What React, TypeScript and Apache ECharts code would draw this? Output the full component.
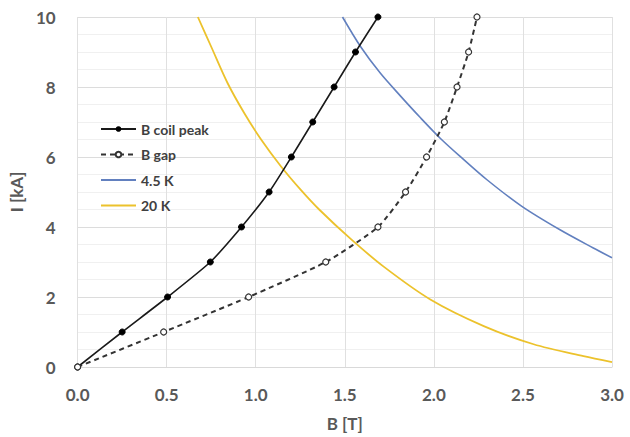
import React, { useEffect, useRef } from "react";
import * as echarts from "echarts";

const currentKA = [0, 1, 2, 3, 4, 5, 6, 7, 8, 9, 10];
const coilPeakB = [0, 0.25, 0.505, 0.745, 0.92, 1.075, 1.2, 1.32, 1.44, 1.56, 1.686];
const gapB = [0, 0.483, 0.96, 1.393, 1.686, 1.841, 1.959, 2.059, 2.13, 2.195, 2.242];

const k45B = [1.487, 1.589, 1.7, 1.813, 1.925, 2.037, 2.149, 2.298, 2.494, 2.708, 2.895, 3.0];
const k45I = [10, 9.15, 8.39, 7.74, 7.12, 6.53, 6.01, 5.35, 4.59, 3.92, 3.4, 3.12];

const k20B = [0.675, 0.75, 0.843, 0.936, 1.03, 1.142, 1.253, 1.356, 1.533, 1.72, 1.98, 2.28, 2.56, 2.84, 3.0];
const k20I = [10, 9.15, 8.1, 7.25, 6.5, 5.73, 5.06, 4.5, 3.66, 2.86, 1.93, 1.17, 0.65, 0.31, 0.14];

const seriesNames = ["B coil peak", "B gap", "4.5 K", "20 K"];

const pairs = (xs: number[], ys: number[]) => xs.map((x, i) => [x, ys[i]]);

export default function App() {
  const ref = useRef<HTMLDivElement>(null);
  useEffect(() => {
    if (!ref.current) return;
    const chart = echarts.init(ref.current, undefined, { renderer: "svg" });
    const font = "Lato, 'Open Sans', sans-serif";
    const labelStyle = { color: "#595959", fontSize: 17, fontWeight: "bold", fontFamily: font };
    chart.setOption({
      animation: false,
      backgroundColor: "#ffffff",
      grid: { left: 76, right: 18, top: 17, bottom: 69 },
      legend: {
        orient: "vertical",
        left: 95,
        top: 117,
        itemWidth: 35,
        itemHeight: 7,
        itemGap: 11.5,
        data: [
          { name: seriesNames[0] },
          { name: seriesNames[1] },
          { name: seriesNames[2], itemStyle: { opacity: 0 } },
          { name: seriesNames[3], itemStyle: { opacity: 0 } },
        ],
        textStyle: { color: "#404040", fontSize: 14, fontWeight: "bold", fontFamily: font },
      },
      xAxis: {
        type: "value",
        min: 0,
        max: 3,
        interval: 0.5,
        name: "B [T]",
        nameLocation: "middle",
        nameGap: 48,
        nameTextStyle: labelStyle,
        axisLine: { show: true, lineStyle: { color: "#d9d9d9", width: 1 } },
        axisTick: { show: false },
        axisLabel: { ...labelStyle, margin: 19, formatter: (v: number) => v.toFixed(1) },
        splitLine: { show: true, lineStyle: { color: "#e0e0e0", width: 1 } },
      },
      yAxis: {
        type: "value",
        min: 0,
        max: 10,
        interval: 2,
        name: "I [kA]",
        nameLocation: "middle",
        nameGap: 44,
        nameTextStyle: labelStyle,
        axisLine: { show: false },
        axisTick: { show: false },
        axisLabel: { ...labelStyle, margin: 22 },
        splitLine: { show: true, lineStyle: { color: "#dcdcdc", width: 1 } },
        minorTick: { show: false, splitNumber: 4 },
        minorSplitLine: { show: true, lineStyle: { color: "#f0f0f0", width: 1 } },
      },
      series: [
        {
          name: seriesNames[0],
          type: "line",
          data: pairs(coilPeakB, currentKA),
          smooth: 0.2,
          symbol: "circle",
          symbolSize: 6,
          itemStyle: { color: "#000000", borderColor: "#000000" },
          lineStyle: { color: "#1a1a1a", width: 1.6 },
          z: 5,
        },
        {
          name: seriesNames[1],
          type: "line",
          data: pairs(gapB, currentKA),
          smooth: 0.2,
          symbol: "circle",
          symbolSize: 6,
          itemStyle: { color: "#ffffff", borderColor: "#333333", borderWidth: 1.2 },
          lineStyle: { color: "#333333", width: 2, type: [5, 4] },
          z: 5,
        },
        {
          name: seriesNames[2],
          type: "line",
          data: pairs(k45B, k45I),
          smooth: 0.3,
          symbol: "none",
          itemStyle: { color: "#6280bf" },
          lineStyle: { color: "#6280bf", width: 1.6 },
        },
        {
          name: seriesNames[3],
          type: "line",
          data: pairs(k20B, k20I),
          smooth: 0.3,
          symbol: "none",
          itemStyle: { color: "#ecc22c" },
          lineStyle: { color: "#ecc22c", width: 1.8 },
        },
      ],
    });
    return () => chart.dispose();
  }, []);
  return (
    <div
      ref={ref}
      style={{ position: "fixed", left: 0, top: 0, width: 630, height: 437 }}
    />
  );
}
